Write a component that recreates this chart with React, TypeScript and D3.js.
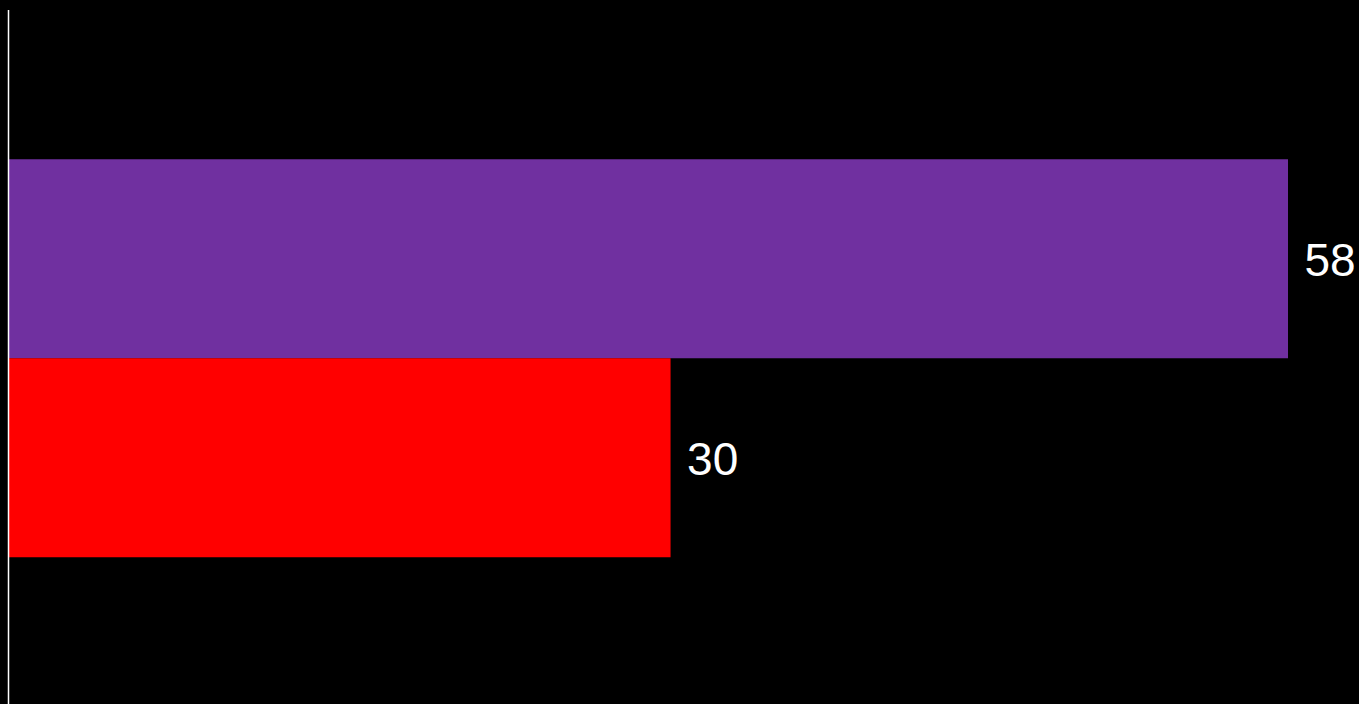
import React from "react";
import * as d3 from "d3";

const categories = ["A", "B"];
const values = [58, 30];
const colors = ["#7030A0", "#FF0000"];

const W = 1359;
const H = 704;

export default function App() {
  React.useEffect(() => {
    document.body.style.margin = "0";
    document.body.style.background = "#000";
  }, []);
  const x = d3.scaleLinear().domain([0, 58]).range([9, 1288]);
  const y = d3.scaleBand().domain(categories).range([10, 706.5]).paddingInner(0).paddingOuter(0.75);
  return (
    <svg width={W} height={H} style={{ display: "block", background: "#000" }}>
      <rect x={0} y={0} width={W} height={H} fill="#000" />
      {categories.map((c, i) => (
        <g key={c}>
          <rect
            x={x(0)}
            y={y(c)!}
            width={x(values[i]) - x(0)}
            height={y.bandwidth()}
            fill={colors[i]}
          />
          <text
            x={x(values[i]) + 16.5}
            y={y(c)! + y.bandwidth() / 2}
            dy="0.37em"
            fill="#fff"
            fontFamily="Liberation Sans, Arial, sans-serif"
            fontSize={46}
          >
            {values[i]}
          </text>
        </g>
      ))}
      <line x1={8.5} x2={8.5} y1={10} y2={H} stroke="#fff" strokeWidth={1.5} />
    </svg>
  );
}
